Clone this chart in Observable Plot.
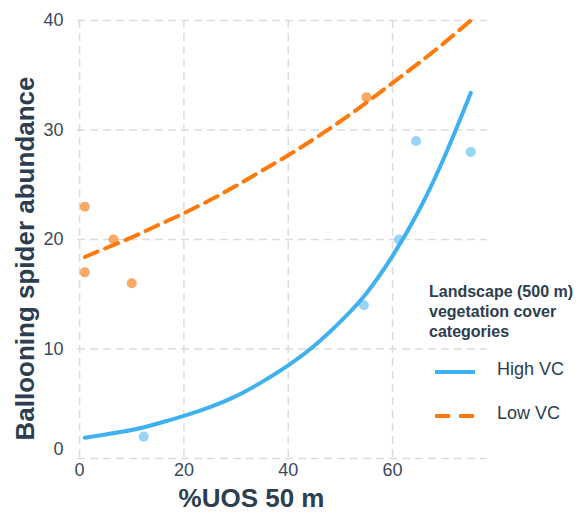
<!DOCTYPE html>
<html>
<head>
<meta charset="utf-8">
<script src="https://cdn.jsdelivr.net/npm/d3@7"></script>
<script src="https://cdn.jsdelivr.net/npm/@observablehq/plot@0.6"></script>
<style>
  html, body { margin: 0; padding: 0; background: #fff; }
  #wrap { position: relative; width: 578px; height: 512px; font-family: "Liberation Sans", Arial, sans-serif; }
  #legend { position: absolute; left: 429px; top: 282px; color: #2c3e50; }
  #legend .title { font-weight: bold; font-size: 16px; line-height: 20px; }
  #legend .item { position: absolute; left: 0; font-size: 18px; white-space: nowrap; }
  #legend svg { position: absolute; left: 6px; }
  #legend span { position: absolute; left: 68px; }
</style>
</head>
<body>
<div id="wrap"></div>
<script>
// Observed points
const lowX = [1, 1, 6.5, 10, 55];
const lowY = [23, 17, 20, 16, 33];
const highX = [12.3, 54.5, 61.2, 64.5, 75];
const highY = [2, 14, 20, 29, 28];

// Fitted curves
const curveX   = [1, 5, 10, 15, 20, 25, 30, 35, 40, 45, 50, 55, 60, 65, 70, 75];
const lowFit   = [18.4, 19.2, 20.2, 21.3, 22.4, 23.6, 24.9, 26.3, 27.7, 29.2, 30.8, 32.5, 34.3, 36.1, 38.0, 40.0];
const highFit  = [1.9, 2.2, 2.6, 3.2, 3.9, 4.7, 5.7, 7.0, 8.5, 10.3, 12.5, 15.1, 18.5, 22.6, 27.6, 33.4];

const xTicks = [0, 20, 40, 60];
const yTicks = [0, 10, 20, 30, 40];
const xLabel = "%UOS 50 m";
const yLabel = "Ballooning spider abundance";
const legendTitle = ["Landscape (500 m)", "vegetation cover", "categories"];
const seriesNames = ["High VC", "Low VC"];

const blueLine = "#3fb0f0", orangeLine = "#ff7a0a";
const bluePt = "#8dcff7", orangePt = "#f8a055";

const lowPts = lowX.map((x, i) => ({x, y: lowY[i]}));
const highPts = highX.map((x, i) => ({x, y: highY[i]}));
const lowCurve = curveX.map((x, i) => ({x, y: lowFit[i]}));
const highCurve = curveX.map((x, i) => ({x, y: highFit[i]}));

const gridStyle = {stroke: "#dcdcdc", strokeOpacity: 1, strokeWidth: 1.5, strokeDasharray: "8,5"};
const tickColor = "#3b4a5c";

const chart = Plot.plot({
  width: 578,
  height: 512,
  marginLeft: 77,
  marginRight: 91,
  marginTop: 20,
  marginBottom: 54,
  style: {fontFamily: "Liberation Sans, Arial, sans-serif", background: "#fff"},
  x: {domain: [-0.4, 78.2]},
  y: {domain: [0, 40]},
  marks: [
    Plot.gridX(xTicks, gridStyle),
    Plot.gridY(yTicks, gridStyle),
    Plot.axisX(xTicks, {tickSize: 0, tickPadding: 5, fontSize: 18, fill: tickColor, label: null}),
    Plot.axisY([10, 20, 30, 40], {tickSize: 0, tickPadding: 14, fontSize: 18, fill: tickColor, label: null}),
    Plot.axisY([0], {tickSize: 0, tickPadding: 14, fontSize: 18, fill: tickColor, label: null, dy: -9}),
    Plot.dot(lowPts, {x: "x", y: "y", r: 5, fill: orangePt, fillOpacity: 0.9}),
    Plot.dot(highPts, {x: "x", y: "y", r: 5, fill: bluePt, fillOpacity: 0.9}),
    Plot.line(lowCurve, {x: "x", y: "y", stroke: orangeLine, strokeWidth: 4, strokeDasharray: "14,8", curve: "natural"}),
    Plot.line(highCurve, {x: "x", y: "y", stroke: blueLine, strokeWidth: 4, curve: "natural"}),
    Plot.text([yLabel], {frameAnchor: "left", rotate: -90, lineAnchor: "bottom", textAnchor: "middle", dx: -44, dy: 19, fontSize: 26, fontWeight: "bold", fill: "#2c3e50"}),
    Plot.text([xLabel], {frameAnchor: "bottom", lineAnchor: "bottom", textAnchor: "middle", dx: -31, dy: 48, fontSize: 26, fontWeight: "bold", fill: "#2c3e50"})
  ]
});

const wrap = document.getElementById("wrap");
wrap.appendChild(chart);

const legend = document.createElement("div");
legend.id = "legend";
legend.innerHTML =
  `<div class="title">${legendTitle.join("<br>")}</div>` +
  `<div class="item" style="top:77px"><svg width="44" height="10" style="top:8px"><line x1="0" y1="5" x2="40" y2="5" stroke="${blueLine}" stroke-width="4"/></svg><span>${seriesNames[0]}</span></div>` +
  `<div class="item" style="top:121px"><svg width="44" height="10" style="top:8px"><line x1="0" y1="5" x2="40" y2="5" stroke="${orangeLine}" stroke-width="4" stroke-dasharray="15,9"/></svg><span>${seriesNames[1]}</span></div>`;
wrap.appendChild(legend);
</script>
</body>
</html>
